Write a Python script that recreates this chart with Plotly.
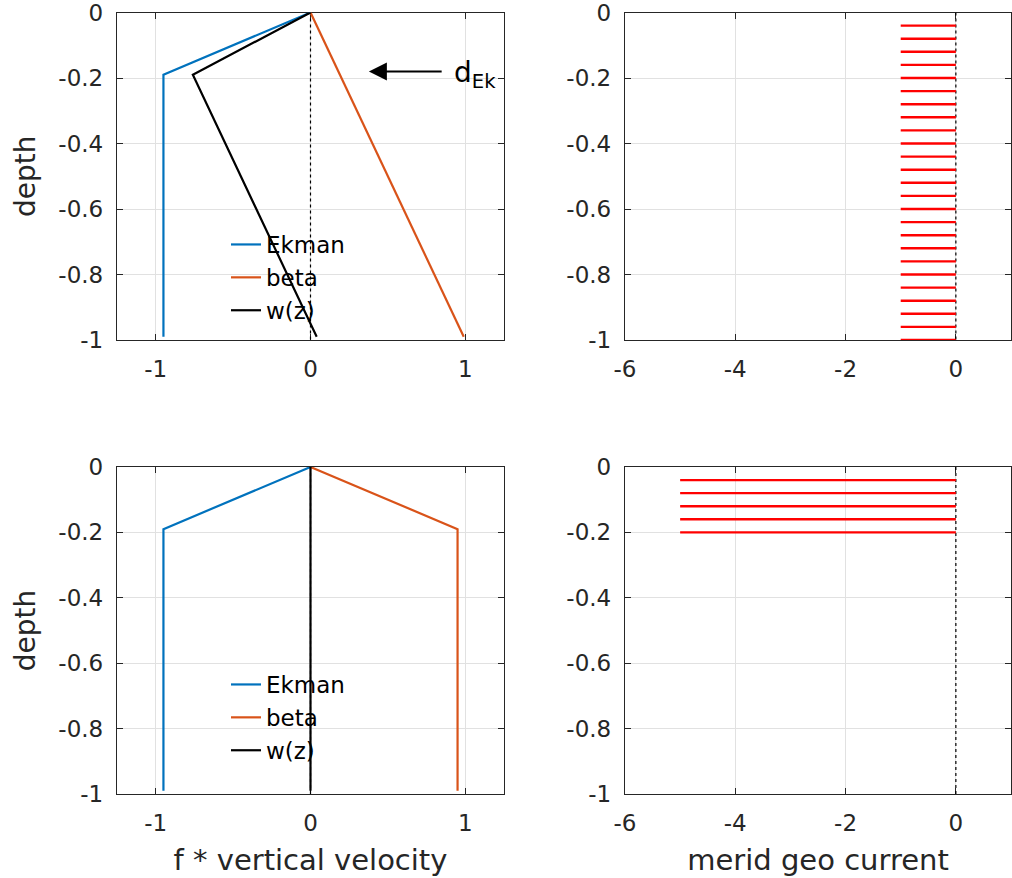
import plotly.graph_objects as go

# ---------------- data ----------------
depth_profile = [0.0, -0.19, -0.99]
ekman_top = [0.0, -0.95, -0.95]
w_top = [0.0, -0.76, 0.04]
beta_top_depth = [0.0, -0.99]
beta_top = [0.0, 0.99]

ekman_bot = [0.0, -0.95, -0.95]
beta_bot = [0.0, 0.95, 0.95]
w_bot = [0.0, 0.0, 0.0]

geo_depth_top = [-0.04, -0.08, -0.12, -0.16, -0.20, -0.24, -0.28, -0.32, -0.36, -0.40,
                 -0.44, -0.48, -0.52, -0.56, -0.60, -0.64, -0.68, -0.72, -0.76, -0.80,
                 -0.84, -0.88, -0.92, -0.96, -1.00]
geo_current_top = [-1, -1, -1, -1, -1, -1, -1, -1, -1, -1,
                   -1, -1, -1, -1, -1, -1, -1, -1, -1, -1,
                   -1, -1, -1, -1, -1]
geo_depth_bot = [-0.04, -0.08, -0.12, -0.16, -0.20]
geo_current_bot = [-5, -5, -5, -5, -5]

zero_line_depth = [0, -1]
zero_line_x = [0, 0]

ytick_vals = [0, -0.2, -0.4, -0.6, -0.8, -1]
ytick_text = ["0", "-0.2", "-0.4", "-0.6", "-0.8", "-1"]
xtick_vel_vals = [-1, 0, 1]
xtick_vel_text = ["-1", "0", "1"]
xtick_geo_vals = [-6, -4, -2, 0]
xtick_geo_text = ["-6", "-4", "-2", "0"]

BLUE = "#0072BD"
ORANGE = "#D95319"
FONT = "DejaVu Sans"
AXC = "#262626"

fig = go.Figure()


def seg_trace(values, depths, xa, ya):
    xs, ys = [], []
    for v, d in zip(values, depths):
        xs += [v, 0, None]
        ys += [d, d, None]
    return go.Scatter(x=xs, y=ys, mode="lines", line=dict(color="#FF0000", width=2.4),
                      xaxis=xa, yaxis=ya, showlegend=False, hoverinfo="skip")


def dotted(xa, ya):
    return go.Scatter(x=zero_line_x, y=zero_line_depth, mode="lines",
                      line=dict(color="black", width=1.2, dash="dot"),
                      xaxis=xa, yaxis=ya, showlegend=False, hoverinfo="skip")


# top-left
fig.add_trace(dotted("x", "y"))
fig.add_trace(go.Scatter(x=ekman_top, y=depth_profile, mode="lines", name="Ekman",
                         line=dict(color=BLUE, width=2.2), xaxis="x", yaxis="y", legend="legend"))
fig.add_trace(go.Scatter(x=beta_top, y=beta_top_depth, mode="lines", name="beta",
                         line=dict(color=ORANGE, width=2.2), xaxis="x", yaxis="y", legend="legend"))
fig.add_trace(go.Scatter(x=w_top, y=depth_profile, mode="lines", name="w(z)",
                         line=dict(color="black", width=2.2), xaxis="x", yaxis="y", legend="legend"))
# top-right
fig.add_trace(dotted("x2", "y2"))
fig.add_trace(seg_trace(geo_current_top, geo_depth_top, "x2", "y2"))
# bottom-left
fig.add_trace(dotted("x3", "y3"))
fig.add_trace(go.Scatter(x=ekman_bot, y=depth_profile, mode="lines", name="Ekman",
                         line=dict(color=BLUE, width=2.2), xaxis="x3", yaxis="y3", legend="legend2"))
fig.add_trace(go.Scatter(x=beta_bot, y=depth_profile, mode="lines", name="beta",
                         line=dict(color=ORANGE, width=2.2), xaxis="x3", yaxis="y3", legend="legend2"))
fig.add_trace(go.Scatter(x=w_bot, y=depth_profile, mode="lines", name="w(z)",
                         line=dict(color="black", width=2.2), xaxis="x3", yaxis="y3", legend="legend2"))
# bottom-right
fig.add_trace(dotted("x4", "y4"))
fig.add_trace(seg_trace(geo_current_bot, geo_depth_bot, "x4", "y4"))

W, H = 1012, 878
left_dom = [117 / W, 504 / W]
right_dom = [625 / W, 1011 / W]
top_dom = [1 - 340 / H, 1 - 12.5 / H]
bot_dom = [1 - 794 / H, 1 - 467 / H]

common = dict(showline=True, linecolor=AXC, linewidth=1.3, mirror="ticks", ticks="inside",
              ticklen=6, tickcolor=AXC, showgrid=True, gridcolor="#e1e1e1", gridwidth=1,
              zeroline=False, automargin=False, layer="below traces",
              ticklabeloverflow="allow",
              tickfont=dict(family=FONT, size=23, color=AXC))


def xaxis(dom, rng, vals, text, anchor, title=None):
    d = dict(common, domain=dom, range=rng, tickvals=vals, ticktext=text, anchor=anchor,
             ticklabelstandoff=8)
    if title:
        d["title"] = dict(text=title, font=dict(family=FONT, size=29, color=AXC), standoff=14)
    return d


def yaxis(dom, anchor, title=None):
    d = dict(common, domain=dom, range=[-1, 0], tickvals=ytick_vals, ticktext=ytick_text,
             anchor=anchor, ticklabelstandoff=8)
    if title:
        d["title"] = dict(text=title, font=dict(family=FONT, size=28, color=AXC), standoff=14)
    return d


legend_font = dict(family=FONT, size=23, color="black")

fig.update_layout(
    width=W, height=H, margin=dict(l=0, r=0, t=0, b=0),
    paper_bgcolor="white", plot_bgcolor="white",
    xaxis=xaxis(left_dom, [-1.25, 1.25], xtick_vel_vals, xtick_vel_text, "y"),
    yaxis=yaxis(top_dom, "x", "depth"),
    xaxis2=xaxis(right_dom, [-6, 1], xtick_geo_vals, xtick_geo_text, "y2"),
    yaxis2=yaxis(top_dom, "x2"),
    xaxis3=xaxis(left_dom, [-1.25, 1.25], xtick_vel_vals, xtick_vel_text, "y3",
                 "f * vertical velocity"),
    yaxis3=yaxis(bot_dom, "x3", "depth"),
    xaxis4=xaxis(right_dom, [-6, 1], xtick_geo_vals, xtick_geo_text, "y4",
                  "merid geo current"),
    yaxis4=yaxis(bot_dom, "x4"),
    legend=dict(x=226 / W, y=1 - 223 / H, xanchor="left", yanchor="top",
                bgcolor="rgba(0,0,0,0)", borderwidth=0, font=legend_font, tracegroupgap=0),
    legend2=dict(x=226 / W, y=1 - 663 / H, xanchor="left", yanchor="top",
                 bgcolor="rgba(0,0,0,0)", borderwidth=0, font=legend_font, tracegroupgap=0),
    annotations=[
        dict(x=0.377, y=-0.18, ax=0.857, ay=-0.18, xref="x", yref="y", axref="x", ayref="y",
             text="", showarrow=True, arrowhead=2, arrowsize=1.8, arrowwidth=2,
             arrowcolor="black"),
        dict(x=0.916, y=-0.19, xref="x", yref="y", text="d<sub>Ek</sub>", showarrow=False,
             xanchor="left", yanchor="middle",
             font=dict(family=FONT, size=28, color="black")),
    ],
)

fig.write_html("out.html")
